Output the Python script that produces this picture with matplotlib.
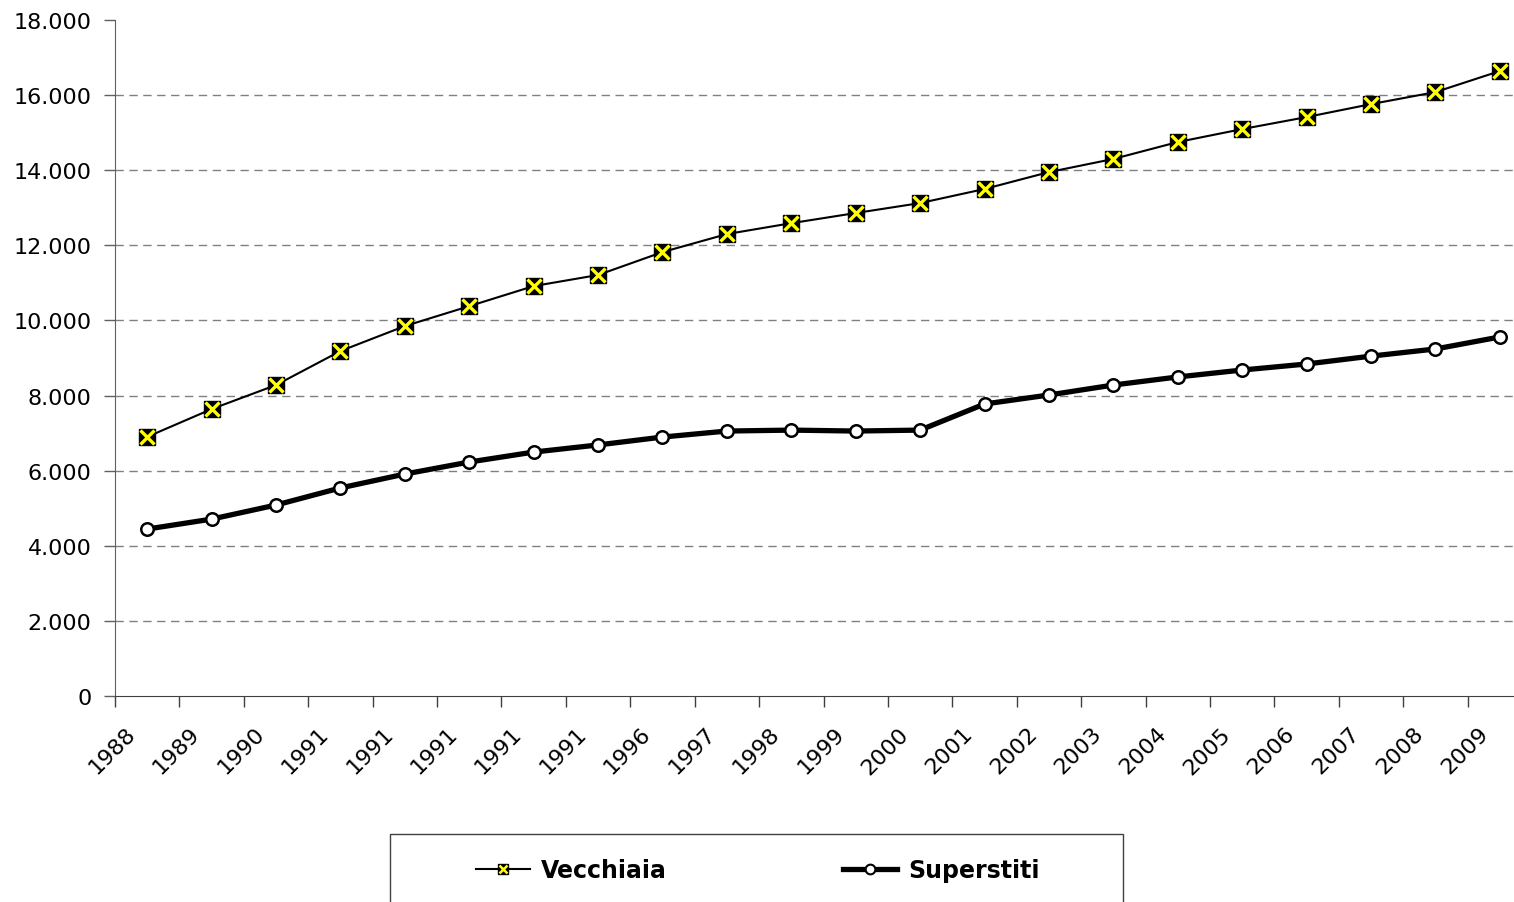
import matplotlib
matplotlib.use("Agg")
import matplotlib.pyplot as plt
from matplotlib.lines import Line2D
from matplotlib.legend_handler import HandlerTuple
from matplotlib.patches import Rectangle
from matplotlib.ticker import FuncFormatter, FixedLocator, NullFormatter
import matplotlib.transforms as mtransforms

years = ["1988", "1989", "1990", "1991", "1991", "1991", "1991", "1991", "1996",
         "1997", "1998", "1999", "2000", "2001", "2002", "2003", "2004", "2005",
         "2006", "2007", "2008", "2009"]
vecchiaia = [6900, 7640, 8280, 9185, 9850, 10380, 10915, 11210, 11820, 12300,
             12590, 12860, 13125, 13500, 13950, 14300, 14750, 15095, 15415,
             15760, 16080, 16640]
superstiti = [4445, 4710, 5085, 5540, 5910, 6230, 6495, 6685, 6895, 7055, 7080,
              7055, 7080, 7775, 8015, 8280, 8495, 8680, 8840, 9050, 9240, 9560]

plt.rcParams['font.family'] = ['DejaVu Sans']
FS = 16

fig = plt.figure(figsize=(15.14, 9.03), dpi=100)
W, H = 1514, 903
left, right, top, bottom = 115, 1532, 21, 697
ax = fig.add_axes([left / W, 1 - bottom / H, (right - left) / W, (bottom - top) / H])

x = list(range(len(years)))
ax.plot(x, vecchiaia, color='black', lw=1.5, marker='s', ms=11, mfc='black',
        mec='black', zorder=3, clip_on=False)
ax.plot(x, vecchiaia, ls='none', marker='x', ms=9.5, mew=2.4, color='#ffff00',
        zorder=4, clip_on=False)
ax.plot(x, superstiti, color='black', lw=3.8, marker='o', ms=9, mfc='white',
        mec='black', mew=1.8, zorder=3, clip_on=False)

ax.set_xlim(-0.5, len(years) - 0.5)
ax.set_ylim(0, 18000)
ax.set_yticks(range(0, 18001, 2000))
ax.yaxis.set_major_formatter(FuncFormatter(lambda v, p: f"{int(v):,}".replace(",", ".")))

# category labels (rotated) at category centres
ax.set_xticks(x)
ax.xaxis.set_major_formatter(NullFormatter())
ax.tick_params(axis='x', which='major', length=0)
offset = mtransforms.ScaledTranslation(-22 / 100, -27 / 100, fig.dpi_scale_trans)
lab_tr = ax.get_xaxis_transform() + offset
for xi, lab in zip(x, years):
    ax.text(xi, 0, lab, transform=lab_tr, rotation=45, ha='right', va='top',
            rotation_mode='anchor', fontsize=FS, clip_on=False)

ax.xaxis.set_minor_locator(FixedLocator([i - 0.5 for i in range(len(years) + 1)]))
ax.tick_params(axis='x', which='minor', length=8, width=1, color='#404040', direction='out')
ax.tick_params(axis='y', length=8, width=1, color='#606060', direction='out',
               labelsize=FS, pad=9)

for s in ['top', 'right']:
    ax.spines[s].set_visible(False)
ax.spines['left'].set_color('#606060')
ax.spines['bottom'].set_color('#404040')

for yv in range(2000, 16001, 2000):
    ax.axhline(yv, color='#808080', lw=1, ls=(0, (6, 4)), zorder=1)

# legend frame
fig.patches.append(Rectangle((390 / W, 1 - 910 / H), 733 / W, 75 / H,
                             transform=fig.transFigure, facecolor='white',
                             edgecolor='#404040', lw=1, zorder=0))

h1 = (Line2D([], [], color='black', lw=1.5, marker='s', ms=7, mfc='black', mec='black'),
      Line2D([], [], ls='none', marker='x', ms=6, mew=1.8, color='#ffff00'))
h2 = Line2D([], [], color='black', lw=3.8, marker='o', ms=7, mfc='white', mec='black', mew=1.5)
leg = fig.legend([h1, h2], ['Vecchiaia', 'Superstiti'],
                 handler_map={tuple: HandlerTuple(ndivide=1, pad=0)},
                 loc='center', bbox_to_anchor=(758 / W, 1 - 871 / H),
                 ncol=2, frameon=False,
                 prop={'weight': 'bold', 'size': 17}, handlelength=2.3,
                 handletextpad=0.47, borderaxespad=0, borderpad=0, columnspacing=7.45)

fig.savefig('out.png', dpi=100)
